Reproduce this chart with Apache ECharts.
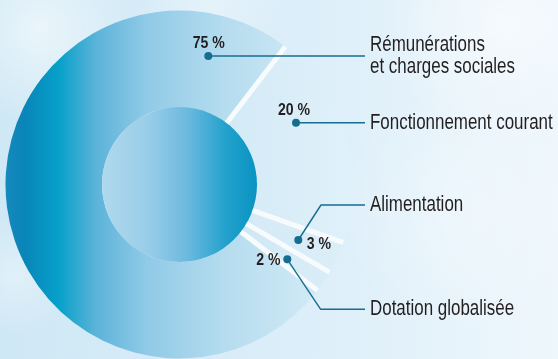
<!DOCTYPE html>
<html>
<head>
<meta charset="utf-8">
<script src="https://cdn.jsdelivr.net/npm/echarts@6/dist/echarts.min.js"></script>
<style>
  html, body { margin: 0; padding: 0; }
  #chart { width: 558px; height: 359px; }
</style>
</head>
<body>
<div id="chart"></div>
<script>
// Budget breakdown, slices listed clockwise from the top separator
const categories = ['Fonctionnement courant', 'Alimentation', 'Dotation globalisée', 'Rémunérations\net charges sociales'];
const shares = [20, 3, 2, 75];

// Callout layout (pixels): anchor dot, elbow, y of the horizontal leader, percent label positions
const calloutDots = [[296, 122.7], [298.3, 240], [287.3, 259.3], [208.3, 56]];
const calloutElbows = [[296, 122.7], [321, 205], [320.7, 309.3], [208.3, 56]];
const leaderY = [122.7, 205, 309.3, 56];
const leaderEndX = 365;
const nameX = 370;
const percentPos = [[294, 110.5], [318.8, 245], [268.3, 260.5], [208.8, 44]];

const CENTER = [179.5, 184.5];
const R_IN = 77.5;
const R_OUT = 174;
const START = 52.5; // degrees, counter-clockwise from 3 o'clock

const lin = (stops) => ({
  type: 'linear', x: 0, y: 0, x2: 1, y2: 0,
  colorStops: stops.map(([o, c]) => ({ offset: o, color: c }))
});

const sliceColors = [
  lin([[0, '#d3eaf6'], [1, '#e0f1fa']]),
  lin([[0, '#d4eaf6'], [1, '#dceef8']]),
  lin([[0, '#d0e8f5'], [1, '#d9edf7']]),
  lin([[0, '#1689bd'], [0.06, '#0985b8'], [0.17, '#06a0c9'], [0.29, '#5cb3d9'],
       [0.45, '#8fcae6'], [0.7, '#b5dcef'], [1, '#d2eaf6']])
];
const discColor = lin([[0, '#b0d9ed'], [0.3, '#98cde8'], [0.55, '#6cb9df'], [0.8, '#22a1cc'], [1, '#0a93c1']]);

const total = shares.reduce((a, b) => a + b, 0);
const cumulative = shares.map((_, i) => shares.slice(0, i).reduce((a, b) => a + b, 0));

const LINE_COLOR = '#176c92';
const TEXT_COLOR = '#231f20';
const FONT = '"Liberation Sans", Arial, sans-serif';

const chart = echarts.init(document.getElementById('chart'), null, { renderer: 'canvas' });

// White strips between slices, placed on the polar angle scale at each cumulative share
const separatorSeries = cumulative.map((c) => ({
  type: 'line',
  coordinateSystem: 'polar',
  data: [[R_IN, c], [R_OUT, c]],
  symbol: 'none',
  silent: true,
  z: 3,
  lineStyle: { color: '#f7fbfd', width: 5, cap: 'butt' }
}));

// Leader lines from each anchor dot to the category name
const leaderSeries = categories.map((_, i) => ({
  type: 'line',
  coordinateSystem: 'cartesian2d',
  data: [calloutDots[i], calloutElbows[i], [leaderEndX, leaderY[i]]],
  symbol: 'none',
  silent: true,
  z: 5,
  lineStyle: { color: LINE_COLOR, width: 1.4 }
}));

// Condensed-looking text: regular face squeezed horizontally
const nameTexts = categories.map((name, i) => ({
  type: 'text',
  x: nameX,
  y: leaderY[i],
  scaleX: 0.77,
  z: 10,
  style: {
    text: name,
    fill: TEXT_COLOR,
    font: '22px ' + FONT,
    lineHeight: 22,
    align: 'left',
    verticalAlign: 'middle'
  }
}));
const percentTexts = shares.map((v, i) => ({
  type: 'text',
  x: percentPos[i][0],
  y: percentPos[i][1],
  scaleX: 0.88,
  z: 10,
  style: {
    text: v + ' %',
    fill: TEXT_COLOR,
    font: 'bold 16px ' + FONT,
    align: 'center',
    verticalAlign: 'middle'
  }
}));

// Soft sky haze behind the chart
const haze = [[40, 30, 95, 0.55], [210, 0, 80, 0.35], [500, 25, 120, 0.5], [15, 275, 60, 0.35], [470, 210, 130, 0.3]]
  .map(([cx, cy, r, a]) => ({
    type: 'circle',
    z: -10,
    silent: true,
    shape: { cx, cy, r },
    style: {
      fill: {
        type: 'radial', x: 0.5, y: 0.5, r: 0.5,
        colorStops: [{ offset: 0, color: `rgba(255,255,255,${a})` }, { offset: 1, color: 'rgba(255,255,255,0)' }]
      }
    }
  }));

chart.setOption({
  animation: false,
  backgroundColor: lin([[0, '#cfe8f5'], [0.55, '#dceef9'], [1, '#eef7fc']]),
  polar: { center: CENTER, radius: R_OUT },
  angleAxis: { type: 'value', min: 0, max: total, startAngle: START, clockwise: true, show: false },
  radiusAxis: { type: 'value', min: 0, max: R_OUT, show: false },
  grid: { left: 0, right: 0, top: 0, bottom: 0 },
  xAxis: { type: 'value', min: 0, max: 558, show: false },
  yAxis: { type: 'value', min: 0, max: 359, inverse: true, show: false },
  graphic: [...haze, ...nameTexts, ...percentTexts],
  series: [
    {
      type: 'pie',
      z: 1,
      center: CENTER,
      radius: [R_IN, R_OUT],
      startAngle: START,
      clockwise: true,
      silent: true,
      label: { show: false },
      labelLine: { show: false },
      data: categories.map((name, i) => ({ name, value: shares[i], itemStyle: { color: sliceColors[i] } }))
    },
    {
      type: 'pie',
      z: 2,
      center: CENTER,
      radius: [0, R_IN],
      silent: true,
      label: { show: false },
      labelLine: { show: false },
      data: [{ name: 'total', value: total, itemStyle: { color: discColor } }]
    },
    ...separatorSeries,
    ...leaderSeries,
    {
      type: 'scatter',
      z: 6,
      coordinateSystem: 'cartesian2d',
      silent: true,
      symbol: 'circle',
      symbolSize: 8,
      itemStyle: { color: LINE_COLOR, opacity: 1 },
      data: calloutDots
    }
  ]
});
</script>
</body>
</html>
